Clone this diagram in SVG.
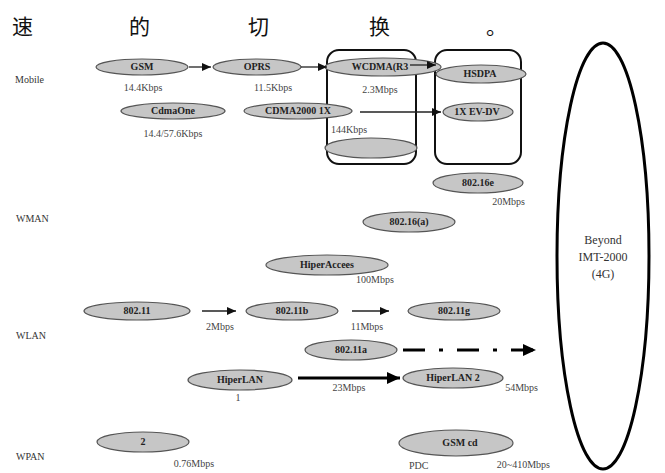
<svg xmlns="http://www.w3.org/2000/svg" width="665" height="473" viewBox="0 0 665 473">
<style>
.bg{fill:#fff}
.title{font-family:"Noto Sans CJK SC","Noto Sans CJK TC",sans-serif;font-size:21px;fill:#111}
.cat{font-family:"Liberation Serif",serif;font-size:10px;fill:#333}
.node ellipse{fill:#c6c6c6;stroke:#555;stroke-width:1.2}
.lbl{font-family:"Liberation Serif",serif;font-size:10px;font-weight:bold;fill:#222;text-anchor:middle}
.rate{font-family:"Liberation Serif",serif;font-size:10px;fill:#444}
.box{fill:none;stroke:#111;stroke-width:2}
.big{fill:none;stroke:#000;stroke-width:3}
.big-t{font-family:"Liberation Serif",serif;font-size:12px;fill:#333;text-anchor:middle}
.thin{stroke:#222;stroke-width:1.3;fill:none}
.thick{stroke:#000;stroke-width:2.8;fill:none}
</style>
<defs>
<marker id="ah" markerUnits="userSpaceOnUse" markerWidth="10" markerHeight="8" refX="9" refY="4" orient="auto">
<path d="M0,0 L9,4 L0,8 Z" fill="#111"/>
</marker>
<marker id="ahL" markerUnits="userSpaceOnUse" markerWidth="14" markerHeight="12" refX="13" refY="6" orient="auto">
<path d="M0,0 L13,6 L0,12 Z" fill="#000"/>
</marker>
</defs>
<rect class="bg" width="665" height="473"/>

<g id="title">
<text class="title" x="12" y="34">速</text>
<text class="title" x="129" y="34">的</text>
<text class="title" x="248" y="34">切</text>
<text class="title" x="369" y="34">换</text>
<text class="title" x="486" y="34">。</text>
</g>

<g id="categories">
<text class="cat" x="15" y="83">Mobile</text>
<text class="cat" x="16" y="222">WMAN</text>
<text class="cat" x="16" y="339">WLAN</text>
<text class="cat" x="16" y="460">WPAN</text>
</g>

<g id="box-3g"><rect class="box" x="327" y="50" width="89" height="114" rx="12"/></g>
<g id="box-35g"><rect class="box" x="435" y="50" width="86" height="114" rx="12"/></g>

<g id="beyond">
<ellipse class="big" cx="603" cy="256" rx="46" ry="213"/>
<text class="big-t" x="603" y="244">Beyond</text>
<text class="big-t" x="603" y="261">IMT-2000</text>
<text class="big-t" x="603" y="278">(4G)</text>
</g>

<g id="gsm" class="node"><ellipse cx="142" cy="67" rx="46" ry="8"/><text class="lbl" x="142" y="70">GSM</text><text class="rate" x="143" y="91" text-anchor="middle">14.4Kbps</text></g>
<g id="oprs" class="node"><ellipse cx="257" cy="67" rx="44" ry="8"/><text class="lbl" x="257" y="70">OPRS</text><text class="rate" x="273" y="91" text-anchor="middle">11.5Kbps</text></g>
<g id="wcdma" class="node"><ellipse cx="383" cy="67" rx="58" ry="9"/><text class="lbl" x="380" y="70">WCDMA(R3</text><text class="rate" x="380" y="93" text-anchor="middle">2.3Mbps</text></g>
<g id="hsdpa" class="node"><ellipse cx="481" cy="74" rx="45" ry="9"/><text class="lbl" x="480" y="77">HSDPA</text></g>
<g id="cdmaone" class="node"><ellipse cx="173" cy="111" rx="52" ry="8"/><text class="lbl" x="173" y="114">CdmaOne</text><text class="rate" x="173" y="137" text-anchor="middle">14.4/57.6Kbps</text></g>
<g id="cdma2000" class="node"><ellipse cx="298" cy="111" rx="54" ry="8"/><text class="lbl" x="298" y="114">CDMA2000 1X</text><text class="rate" x="349" y="133" text-anchor="middle">144Kbps</text></g>
<g id="evdv" class="node"><ellipse cx="478" cy="112" rx="35" ry="9"/><text class="lbl" x="477" y="115">1X EV-DV</text></g>
<g id="empty3g" class="node"><ellipse cx="371" cy="148" rx="46" ry="10"/></g>

<g id="n80216e" class="node"><ellipse cx="478" cy="183" rx="45" ry="10"/><text class="lbl" x="478" y="186">802.16e</text><text class="rate" x="525" y="205" text-anchor="end">20Mbps</text></g>
<g id="n80216a" class="node"><ellipse cx="409" cy="222" rx="46" ry="10"/><text class="lbl" x="409" y="225">802.16(a)</text></g>
<g id="hiperaccess" class="node"><ellipse cx="327" cy="265" rx="61" ry="10"/><text class="lbl" x="327" y="268">HiperAccees</text><text class="rate" x="375" y="283" text-anchor="middle">100Mbps</text></g>

<g id="n80211" class="node"><ellipse cx="137" cy="311" rx="53" ry="9"/><text class="lbl" x="137" y="314">802.11</text></g>
<g id="n80211b" class="node"><ellipse cx="292" cy="311" rx="46" ry="9"/><text class="lbl" x="292" y="314">802.11b</text></g>
<g id="n80211g" class="node"><ellipse cx="454" cy="311" rx="46" ry="9"/><text class="lbl" x="454" y="314">802.11g</text></g>
<g id="n80211a" class="node"><ellipse cx="351" cy="350" rx="46" ry="10"/><text class="lbl" x="351" y="353">802.11a</text></g>
<g id="hiperlan" class="node"><ellipse cx="240" cy="380" rx="52" ry="10"/><text class="lbl" x="240" y="383">HiperLAN</text><text class="rate" x="238" y="401" text-anchor="middle">1</text></g>
<g id="hiperlan2" class="node"><ellipse cx="453" cy="378" rx="50" ry="10"/><text class="lbl" x="453" y="381">HiperLAN 2</text><text class="rate" x="538" y="391" text-anchor="end">54Mbps</text></g>
<g id="n2" class="node"><ellipse cx="143" cy="442" rx="46" ry="10"/><text class="lbl" x="143" y="445">2</text><text class="rate" x="194" y="467" text-anchor="middle">0.76Mbps</text></g>
<g id="gsmcd" class="node"><ellipse cx="456" cy="443" rx="57" ry="13"/><text class="lbl" x="460" y="446">GSM cd</text><text class="rate" x="409" y="469">PDC</text><text class="rate" x="550" y="468" text-anchor="end">20~410Mbps</text></g>

<g id="connectors">
<line class="thin" x1="189" y1="67" x2="211" y2="67" marker-end="url(#ah)"/>
<line class="thin" x1="301" y1="67" x2="327" y2="67" marker-end="url(#ah)"/>
<line class="thin" x1="410" y1="65" x2="436" y2="65" marker-end="url(#ah)"/>
<line class="thin" x1="360" y1="112" x2="441" y2="112" marker-end="url(#ah)"/>
<line class="thin" x1="202" y1="311" x2="236" y2="311" marker-end="url(#ah)"/>
<line class="thin" x1="352" y1="311" x2="389" y2="311" marker-end="url(#ah)"/>
<line class="thick" x1="403" y1="350" x2="536" y2="350" stroke-dasharray="22,14,4,14" marker-end="url(#ahL)"/>
<line class="thick" x1="298" y1="378" x2="400" y2="378" marker-end="url(#ahL)"/>
</g>
<g id="connector-labels">
<text class="rate" x="220" y="330" text-anchor="middle">2Mbps</text>
<text class="rate" x="367" y="330" text-anchor="middle">11Mbps</text>
<text class="rate" x="349" y="391" text-anchor="middle">23Mbps</text>
</g>
</svg>
